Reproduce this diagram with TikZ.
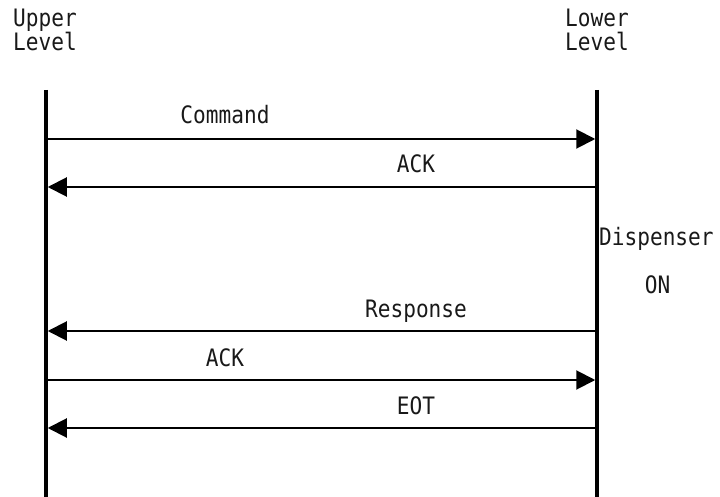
\documentclass[tikz,border=0pt]{standalone}
\usepackage{fontspec}
\setmainfont{DejaVu Sans Mono}[FakeStretch=0.88]
\usetikzlibrary{arrows.meta}
\begin{document}
\begin{tikzpicture}[x=1pt,y=-1pt,
  lifeline/.style={line width=3.5pt},
  msg/.style={line width=2pt,-{Triangle[length=19pt,width=19pt]}},
  lbl/.style={font=\fontsize{24}{26}\selectfont,text=black!90,inner sep=0pt}]
\useasboundingbox (0,0) rectangle (720,497);
% headers
\node[lbl,anchor=base west] (up1) at (13,27) {Upper};
\node[lbl,anchor=base west] (up2) at (13,51) {Level};
\node[lbl,anchor=base west] (lo1) at (565,27) {Lower};
\node[lbl,anchor=base west] (lo2) at (565,51) {Level};
% lifelines
\coordinate (Ltop) at (46,90);
\coordinate (Lbot) at (46,497);
\coordinate (Rtop) at (597,90);
\coordinate (Rbot) at (597,497);
\draw[lifeline] (Ltop) -- (Lbot);
\draw[lifeline] (Rtop) -- (Rbot);
% message endpoints
\foreach \n/\y in {1/139,2/187,3/331,4/380,5/428}{
  \coordinate (L\n) at (47.75,\y);
  \coordinate (R\n) at (595.25,\y);
}
\draw[msg] (L1) -- (R1);
\draw[msg] (R2) -- (L2);
\draw[msg] (R3) -- (L3);
\draw[msg] (L4) -- (R4);
\draw[msg] (R5) -- (L5);
% labels
\node[lbl,anchor=base] (m1) at (225,124) {Command};
\node[lbl,anchor=base] (m2) at (416,173) {ACK};
\node[lbl,anchor=base] (m3) at (416,317) {Response};
\node[lbl,anchor=base] (m4) at (225,366) {ACK};
\node[lbl,anchor=base] (m5) at (416,414) {EOT};
\node[lbl,anchor=base west] (d1) at (599,245) {Dispenser};
\node[lbl,anchor=base] (d2) at (657.5,293) {ON};
\end{tikzpicture}
\end{document}
